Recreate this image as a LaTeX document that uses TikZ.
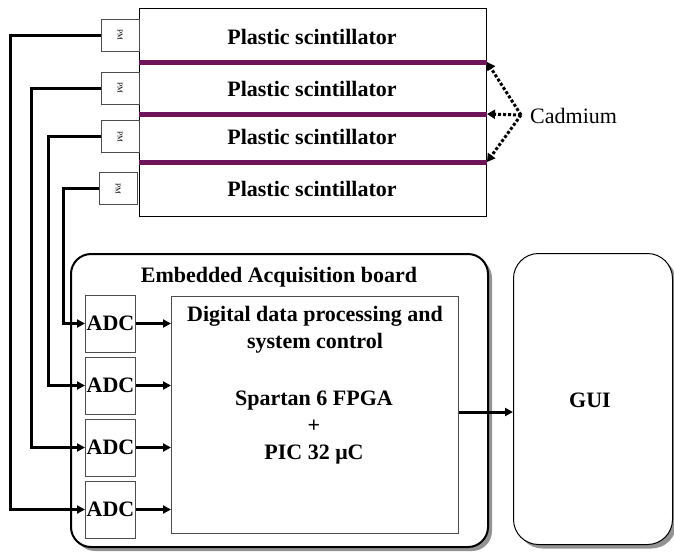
\documentclass[tikz,border=0pt]{standalone}
\usepackage{fontspec}
\setmainfont{Liberation Serif}
\usetikzlibrary{arrows.meta,shadows}
\begin{document}
\begin{tikzpicture}[x=1pt,y=-1pt,
  wire/.style={line width=3pt,-{Triangle[length=8pt,width=8pt]}},
  box/.style={draw=black!70,line width=1pt,fill=white},
  bar/.style={draw=none,fill={rgb,255:red,110;green,20;blue,90}},
  lbl/.style={font=\bfseries\fontsize{22}{27}\selectfont},
  pmstyle/.style={box,minimum width=38pt,minimum height=32pt,inner sep=0pt},
  adcstyle/.style={box,minimum width=50pt,minimum height=57pt,inner sep=0pt,font=\bfseries\fontsize{22}{26}\selectfont},
  rbox/.style={draw=black,line width=2pt,rounded corners=20pt,fill=white,
     drop shadow={shadow xshift=4pt,shadow yshift=-4pt,fill=black!50,opacity=0.85}},
  cad/.style={line width=3pt,dotted,-{Triangle[length=8pt,width=9pt]}}]
\useasboundingbox (0,0) rectangle (674,552);
% scintillator stack
\node[box,draw=black,line width=1pt,minimum width=347pt,minimum height=208pt,anchor=north west,inner sep=0pt] (stack) at (139,8) {};
\fill[bar] (139,59.5) rectangle (487,64.5);
\fill[bar] (139,111.5) rectangle (487,116.5);
\fill[bar] (139,159.5) rectangle (487,164.5);
\coordinate (b1) at (487,62);
\coordinate (b2) at (487,114);
\coordinate (b3) at (487,162);
\node[lbl] (s1) at (312,37) {Plastic scintillator};
\node[lbl] (s2) at (312,89) {Plastic scintillator};
\node[lbl] (s3) at (312,137) {Plastic scintillator};
\node[lbl] (s4) at (312,189) {Plastic scintillator};
% PMs
\node[pmstyle] (pm1) at (120,35) {\rotatebox{-90}{\fontsize{7.5}{8}\selectfont PM}};
\node[pmstyle] (pm2) at (120,88) {\rotatebox{-90}{\fontsize{7.5}{8}\selectfont PM}};
\node[pmstyle] (pm3) at (120,136.5) {\rotatebox{-90}{\fontsize{7.5}{8}\selectfont PM}};
\node[pmstyle] (pm4) at (118,188.5) {\rotatebox{-90}{\fontsize{7.5}{8}\selectfont PM}};
% Cadmium
\node[font=\fontsize{22}{26}\selectfont,anchor=west,inner sep=0pt] (cd) at (530,116) {Cadmium};
\coordinate (cc) at (521,115);
\draw[cad] (cc) -- (b1);
\draw[cad] (cc) -- (b2);
\draw[cad] (cc) -- (b3);
% board
\node[rbox,minimum width=417pt,minimum height=293pt,anchor=north west,inner sep=0pt] (board) at (70,253) {};
\node[lbl] (bt) at (279,277) {Embedded Acquisition board};
\node[box,minimum width=287pt,minimum height=237pt,anchor=north west,inner sep=0pt] (proc) at (171,296) {};
\node[lbl,align=center] (pt) at (315,330) {Digital data processing and\\system control};
\node[lbl,align=center] (pt2) at (314,428) {Spartan 6 FPGA\\+\\PIC 32 μC};
% ADCs
\node[adcstyle] (a1) at (110.5,323.5) {ADC};
\node[adcstyle] (a2) at (110.5,385.5) {ADC};
\node[adcstyle] (a3) at (110.5,447.5) {ADC};
\node[adcstyle] (a4) at (110.5,509.5) {ADC};
\foreach \i in {1,2,3,4}{\draw[wire] (a\i.east) -- (a\i.east -| proc.west);}
% wires PM -> ADC
\draw[wire] (pm1.west) -| (10,509.5) -- (a4.west);
\draw[wire] (pm2.west) -| (31,447.5) -- (a3.west);
\draw[wire] (pm3.west) -| (48,385.5) -- (a2.west);
\draw[wire] (pm4.west) -| (63,323.5) -- (a1.west);
% GUI
\node[rbox,rounded corners=25pt,line width=1pt,minimum width=159pt,minimum height=291pt,anchor=north west,inner sep=0pt] (gui) at (513,253) {};
\node[lbl] (gt) at (590,400) {GUI};
\draw[wire] (proc.east |- 0,412) -- (gui.west |- 0,412);
\end{tikzpicture}
\end{document}
